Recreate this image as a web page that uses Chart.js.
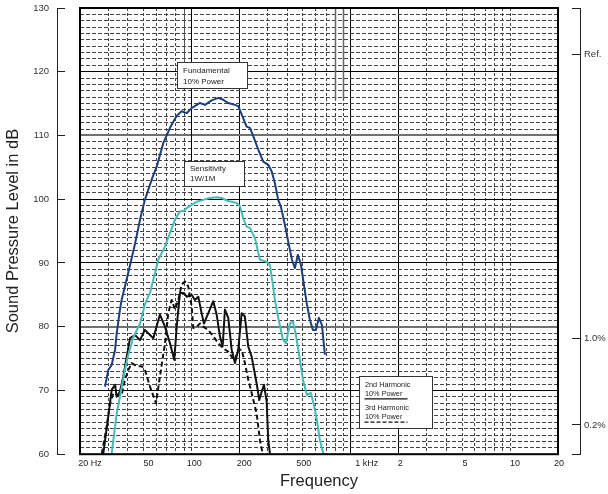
<!DOCTYPE html>
<html><head><meta charset="utf-8">
<script src="https://cdn.jsdelivr.net/npm/chart.js@4.4.1/dist/chart.umd.min.js"></script>
<style>html,body{margin:0;padding:0;background:#fff;}canvas{display:block;}</style>
</head><body>
<canvas id="c" width="608" height="494"></canvas>
<script>
// ---- data (Hz, dB SPL) ----
const fundFreq = [28.7,30.1,31.6,33.2,34.0,35.6,36.5,40.2,44.3,47.6,51.1,56.4,60.6,66.6,73.4,80.9,86.9,93.4,100.4,113.2,121.7,134.0,147.5,158.5,170.4,187.7,196.9,206.8,222.2,233.0,244.6,262.9,282.6,303.7,318.9,334.5,350.8,364.8,386.4,409.6,427.6,446.6,466.4,486.9,508.5,531.1,554.6,579.1,604.8,631.5,659.5,688.8];
const fundDb = [70.6,73.2,74.0,76.4,79.0,82.6,84.2,88.5,93.0,96.8,99.9,103.1,105.1,108.8,111.2,113.1,113.8,113.5,114.3,115.1,114.8,115.5,115.9,115.6,115.1,114.8,114.6,113.3,111.4,111.2,109.9,107.8,105.9,105.4,104.4,102.5,99.9,98.8,96.0,92.8,90.5,89.2,91.3,89.7,86.6,83.5,81.1,79.5,79.5,81.4,80.3,75.6];

const sensFreq = [31.6,34.0,35.6,38.3,40.2,43.2,47.6,51.1,55.0,62.0,68.3,73.4,78.9,84.8,88.9,93.4,100.4,107.9,118.7,130.8,144.1,154.9,166.5,179.0,192.4,201.8,211.6,222.2,233.0,250.6,269.3,296.8,311.2,325.0,334.5,350.8,375.4,392.0,415.4,433.9,453.1,480.1,501.2,531.1,562.7,587.6,613.5,640.6,678.9];
const sensDb = [60.1,66.4,69.0,73.3,75.6,78.3,80.5,83.5,85.3,90.5,92.6,94.7,96.8,98.1,98.1,98.6,99.1,99.6,99.9,100.2,100.3,100.2,99.8,99.6,99.4,98.9,97.0,95.7,95.5,93.9,90.5,90.2,89.7,86.5,84.2,81.4,78.0,77.4,80.5,80.8,78.7,74.8,71.7,69.3,69.6,67.7,65.4,62.2,59.8];

const h2Freq = [28.0,30.1,31.6,33.2,34.0,35.6,37.4,39.3,41.2,44.3,47.6,51.1,55.0,57.7,63.5,68.3,73.4,78.1,80.9,84.8,89.8,93.4,100.4,105.3,110.5,116.0,119.9,127.6,137.2,144.1,151.1,157.1,162.4,170.4,179.0,187.7,196.9,206.8,216.8,227.4,238.9,256.8,266.7,276.1,285.5,296.8,303.7,311.2];
const h2Db = [60.1,65.9,70.1,70.9,69.0,69.8,72.2,75.3,78.2,78.7,77.9,79.5,78.7,78.2,81.9,80.0,77.4,74.8,80.0,85.3,85.3,84.7,85.0,84.2,84.7,82.1,80.5,82.1,84.0,81.9,78.5,76.9,82.7,81.4,76.4,74.3,76.4,82.1,81.6,76.9,75.3,71.1,68.5,69.8,70.9,68.3,62.2,60.1];

const h3Freq = [27.4,29.4,30.9,32.4,34.0,36.5,38.3,40.2,42.2,45.4,48.8,51.1,55.0,60.0,63.5,68.3,71.6,75.2,78.9,82.8,86.9,91.2,95.6,100.4,102.8,107.9,113.2,118.7,127.6,137.2,147.5,158.5,170.4,179.0,187.7,196.9,206.8,216.8,227.4,238.9,256.8,269.3,280.2];
const h3Db = [60.1,64.3,68.0,69.6,69.3,69.3,71.7,73.2,74.3,73.8,73.8,73.2,70.6,68.0,72.2,77.4,82.1,84.2,82.7,84.2,86.6,87.1,86.3,83.2,79.8,80.0,80.5,80.0,79.5,78.5,77.4,76.6,76.1,75.3,74.8,76.4,76.4,74.3,71.7,69.6,66.4,62.2,60.1];

// ---- axis ticks / labels ----
const xGridValues = [20,30,40,50,60,70,80,90,100,200,300,400,500,600,700,800,900,1000,2000,3000,4000,5000,6000,7000,8000,9000,10000,20000];
const xMajorSolid = [20,200,1000,2000,20000];
const xTickValues = [20,50,100,200,500,1000,2000,5000,10000,20000];
const xTickLabels = ['20 Hz','50','100','200','500','1 kHz','2','5','10','20'];
const yMajorGray = [110,80];
const rightTickValues = [130,122.7,78.1,64.6,60];
const rightTickLabels = ['','Ref.','1.0%','0.2%',''];

const FONT = "'Liberation Sans', Arial, Helvetica, sans-serif";
Chart.defaults.font.family = FONT;
Chart.defaults.color = '#222';

const pts = (fx, fy) => fx.map((f, i) => ({x: f, y: fy[i]}));

// decorative partial solid grid segments {freq, down to dB}
const solidSegments = [
  {f: 90, to: 120.8, color: '#555', w: 1},
  {f: 100, to: 102, color: '#000', w: 1},
  {f: 800, to: 115.5, color: '#666', w: 1.5},
  {f: 900, to: 115.5, color: '#666', w: 1.5}
];
const xLabelNudge = [10,5,3,5,1,16,1.5,3,5,1];

const boxes = [
  {f0: 81.6, f1: 222, d0: 121.46, d1: 117.4, size: 8,
   lines: [['Fundamental', 8.3], ['10% Power', 19]], rules: []},
  {f0: 89.8, f1: 213.8, d0: 105.93, d1: 102.0, size: 8,
   lines: [['Sensitivity', 7.5], ['1W/1M', 17]], rules: []},
  {f0: 1125, f1: 3246, d0: 72.3, d1: 64.1, size: 7.3,
   lines: [['2nd Harmonic', 8], ['10% Power', 17.3], ['3rd Harmonic', 31.5], ['10% Power', 40.5]],
   rules: [[22.3, []], [45.7, [4, 2]]]}
];

const noEdgePad = s => { s.paddingTop = 0; s.paddingBottom = 0; };

const decor = {
  id: 'decor',
  beforeDatasetsDraw(chart) {
    const {ctx, scales: {x, y}} = chart;
    ctx.save();
    solidSegments.forEach(s => {
      const px = Math.round(x.getPixelForValue(s.f)) + 0.5;
      ctx.strokeStyle = s.color; ctx.lineWidth = s.w; ctx.setLineDash([]);
      ctx.beginPath();
      ctx.moveTo(px, y.getPixelForValue(130));
      ctx.lineTo(px, y.getPixelForValue(s.to));
      ctx.stroke();
    });
    ctx.restore();
  },
  afterDatasetsDraw(chart) {
    const {ctx, chartArea: a, scales: {x, y}} = chart;
    ctx.save();
    ctx.strokeStyle = '#000'; ctx.lineWidth = 2; ctx.setLineDash([]);
    ctx.strokeRect(a.left, a.top, a.right - a.left, a.bottom - a.top);
    boxes.forEach(b => {
      const L = Math.round(x.getPixelForValue(b.f0)) + 0.5, R = Math.round(x.getPixelForValue(b.f1)) + 0.5;
      const T = Math.round(y.getPixelForValue(b.d0)) + 0.5, B = Math.round(y.getPixelForValue(b.d1)) + 0.5;
      ctx.fillStyle = '#fff';
      ctx.fillRect(L, T, R - L, B - T);
      ctx.strokeStyle = '#333'; ctx.lineWidth = 1; ctx.setLineDash([]);
      ctx.strokeRect(L, T, R - L, B - T);
      ctx.fillStyle = '#222';
      ctx.font = b.size + 'px ' + FONT;
      ctx.textAlign = 'left'; ctx.textBaseline = 'middle';
      b.lines.forEach(([t, dy]) => ctx.fillText(t, L + 5.5, T + dy));
      b.rules.forEach(([dy, dash]) => {
        ctx.strokeStyle = '#111'; ctx.lineWidth = 1.3; ctx.setLineDash(dash);
        ctx.beginPath(); ctx.moveTo(L + 5, T + dy); ctx.lineTo(L + 48, T + dy); ctx.stroke();
      });
    });
    ctx.setLineDash([]);
    ctx.fillStyle = '#222';
    ctx.font = '9px ' + FONT;
    ctx.textAlign = 'center'; ctx.textBaseline = 'middle';
    xTickValues.forEach((v, i) => ctx.fillText(xTickLabels[i], x.getPixelForValue(v) + xLabelNudge[i], a.bottom + 9));
    ctx.restore();
  }
};

new Chart(document.getElementById('c'), {
  type: 'line',
  data: {
    datasets: [
      {label: 'Sensitivity 1W/1M', data: pts(sensFreq, sensDb), borderColor: '#45bdb6', borderWidth: 2},
      {label: 'Fundamental 10% Power', data: pts(fundFreq, fundDb), borderColor: '#1f3f7a', borderWidth: 2},
      {label: '3rd Harmonic 10% Power', data: pts(h3Freq, h3Db), borderColor: '#111', borderWidth: 2, borderDash: [5, 3]},
      {label: '2nd Harmonic 10% Power', data: pts(h2Freq, h2Db), borderColor: '#111', borderWidth: 2}
    ]
  },
  options: {
    responsive: false,
    animation: false,
    devicePixelRatio: 1,
    layout: {padding: {top: 8, left: 0, right: 0, bottom: 0}},
    plugins: {legend: {display: false}, tooltip: {enabled: false}},
    elements: {point: {radius: 0}, line: {tension: 0, borderJoinStyle: 'round', fill: false}},
    scales: {
      x: {
        type: 'logarithmic', position: 'bottom', min: 20, max: 20000,
        afterBuildTicks: s => { s.ticks = xGridValues.map(v => ({value: v})); },
        ticks: {display: false},
        grid: {
          drawTicks: false,
          color: c => (c.tick && xMajorSolid.includes(c.tick.value)) ? '#000' : '#444',
          lineWidth: 1
        },
        border: {display: false, dash: c => (c.tick && !xMajorSolid.includes(c.tick.value)) ? [3, 2] : []},
        title: {display: true, text: 'Frequency', color: '#222', font: {size: 16.5}, padding: {top: 17, bottom: 3}}
      },
      y: {
        position: 'left', weight: 0, min: 60, max: 130,
        ticks: {display: false, stepSize: 1},
        grid: {
          drawTicks: false,
          color: c => {
            const v = c.tick ? c.tick.value : 0;
            if (v % 10 === 0) return yMajorGray.includes(v) ? '#707070' : '#000';
            return '#444';
          },
          lineWidth: c => {
            const v = c.tick ? c.tick.value : 0;
            return (v % 10 === 0 && yMajorGray.includes(v)) ? 2 : 1;
          }
        },
        border: {display: false, dash: c => (c.tick && c.tick.value % 10 !== 0) ? [4, 2] : []},
        afterFit: s => { s.width = 23; }
      },
      yl: {
        position: 'left', weight: 1, min: 60, max: 130,
        ticks: {stepSize: 10, padding: 16, color: '#333', font: {size: 9.5}},
        grid: {drawOnChartArea: false, drawTicks: true, tickLength: -8, color: '#222', lineWidth: 1},
        border: {display: true, color: '#222', width: 1},
        title: {display: true, text: 'Sound Pressure Level in dB', color: '#222', font: {size: 16.5}, padding: {top: 4, bottom: 0}},
        afterFit: s => { s.width = 57; noEdgePad(s); }
      },
      yr0: {
        position: 'right', weight: 0, min: 60, max: 130,
        ticks: {display: false}, grid: {display: false}, border: {display: false},
        afterFit: s => { s.width = 22; noEdgePad(s); }
      },
      yr: {
        position: 'right', weight: 1, min: 60, max: 130,
        afterBuildTicks: s => { s.ticks = rightTickValues.map(v => ({value: v})); },
        ticks: {padding: 12, color: '#333', font: {size: 9.5}, autoSkip: false, callback: (v, i) => rightTickLabels[i]},
        grid: {drawOnChartArea: false, drawTicks: true, tickLength: -8, color: '#222', lineWidth: 1},
        border: {display: true, color: '#222', width: 1},
        afterFit: s => { s.width = 28; noEdgePad(s); }
      }
    }
  },
  plugins: [decor]
});
</script>
</body></html>
